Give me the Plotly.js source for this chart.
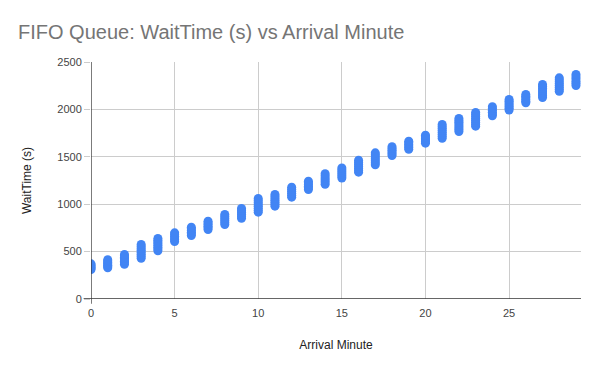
<!DOCTYPE html>
<html>
<head>
<meta charset="utf-8">
<script src="https://cdn.plot.ly/plotly-3.0.1.min.js"></script>
<style>html,body{margin:0;padding:0;background:#fff;}#chart{width:600px;height:371px;}</style>
</head>
<body>
<div id="chart"></div>
<script>
// Arrival minute for each customer (x) and wait time in seconds (y)
const waits0 = [311, 322, 335, 347, 359, 371];
const waits1 = [329, 343, 357, 371, 386, 400, 414];
const waits2 = [367, 382, 397, 412, 426, 440, 455, 469];
const waits3 = [430, 451, 472, 493, 513, 534, 555, 575];
const waits4 = [508, 527, 546, 565, 584, 602, 620, 638];
const waits5 = [607, 625, 643, 661, 680, 698];
const waits6 = [670, 688, 705, 722, 740, 757];
const waits7 = [733, 751, 768, 786, 803, 821];
const waits8 = [786, 807, 828, 849, 870, 891];
const waits9 = [852, 873, 893, 914, 934, 955];
const waits10 = [916, 937, 957, 978, 998, 1019, 1040, 1060];
const waits11 = [979, 1000, 1020, 1041, 1061, 1082, 1102];
const waits12 = [1074, 1095, 1116, 1137, 1158, 1179];
const waits13 = [1155, 1173, 1190, 1208, 1225, 1243];
const waits14 = [1211, 1233, 1255, 1277, 1299, 1321];
const waits15 = [1276, 1297, 1318, 1340, 1361, 1382];
const waits16 = [1338, 1359, 1380, 1401, 1422, 1443, 1464];
const waits17 = [1416, 1437, 1458, 1479, 1500, 1521, 1542];
const waits18 = [1514, 1532, 1551, 1569, 1588, 1606];
const waits19 = [1580, 1597, 1614, 1631, 1648, 1665];
const waits20 = [1644, 1661, 1678, 1694, 1711, 1728];
const waits21 = [1696, 1717, 1738, 1758, 1779, 1800, 1820, 1841];
const waits22 = [1767, 1787, 1806, 1826, 1845, 1865, 1884, 1904];
const waits23 = [1823, 1844, 1864, 1885, 1905, 1926, 1946, 1967];
const waits24 = [1933, 1952, 1971, 1990, 2009, 2028];
const waits25 = [1994, 2013, 2031, 2050, 2068, 2087, 2105];
const waits26 = [2070, 2087, 2105, 2122, 2140, 2157];
const waits27 = [2126, 2146, 2165, 2185, 2204, 2224, 2243, 2263];
const waits28 = [2192, 2212, 2232, 2252, 2272, 2292, 2313, 2333];
const waits29 = [2252, 2275, 2298, 2322, 2345, 2368];

const waitsByMinute = [waits0, waits1, waits2, waits3, waits4, waits5, waits6, waits7, waits8, waits9,
  waits10, waits11, waits12, waits13, waits14, waits15, waits16, waits17, waits18, waits19,
  waits20, waits21, waits22, waits23, waits24, waits25, waits26, waits27, waits28, waits29];

const xTickVals = [0, 5, 10, 15, 20, 25];
const yTickVals = [0, 500, 1000, 1500, 2000, 2500];

const xs = [], ys = [];
waitsByMinute.forEach((arr, minute) => arr.forEach(v => { xs.push(minute); ys.push(v); }));

const font = "Liberation Sans, Arial, sans-serif";

Plotly.newPlot('chart', [{
  type: 'scatter', mode: 'markers', x: xs, y: ys,
  marker: {color: '#4285f4', size: 9, line: {width: 0}},
  hoverinfo: 'x+y'
}], {
  width: 600, height: 371,
  margin: {l: 91, r: 19, t: 62, b: 72},
  paper_bgcolor: '#fff', plot_bgcolor: '#fff',
  showlegend: false,
  title: {text: 'FIFO Queue: WaitTime (s) vs Arrival Minute', x: 0.03, xanchor: 'left', y: 0.915, yanchor: 'middle',
    font: {family: font, size: 20, color: '#757575'}},
  xaxis: {
    range: [0, 29.3], tickvals: xTickVals, ticktext: xTickVals.map(String),
    showgrid: true, gridcolor: '#cccccc', gridwidth: 1,
    zeroline: false, showline: false,
    ticks: 'outside', ticklen: 4, tickcolor: 'rgba(0,0,0,0)',
    tickfont: {family: font, size: 11, color: '#444'},
    title: {text: 'Arrival Minute', font: {family: font, size: 12, color: '#222'}, standoff: 22}
  },
  yaxis: {
    range: [0, 2500], tickvals: yTickVals, ticktext: yTickVals.map(String),
    showgrid: true, gridcolor: '#cccccc', gridwidth: 1,
    zeroline: false, showline: false,
    ticks: 'outside', ticklen: 6, tickcolor: '#cccccc',
    tickfont: {family: font, size: 11, color: '#444'},
    title: {text: 'WaitTime (s)', font: {family: font, size: 12, color: '#222'}, standoff: 23}
  },
  shapes: [
    {type: 'line', xref: 'paper', yref: 'y', x0: -0.015, x1: 1, y0: 0, y1: 0, line: {color: '#333', width: 1.3}},
    {type: 'line', xref: 'x', yref: 'paper', x0: 0, x1: 0, y0: -0.02, y1: 1, line: {color: '#333', width: 1.3}}
  ]
}, {displayModeBar: false, staticPlot: true});
</script>
</body>
</html>
